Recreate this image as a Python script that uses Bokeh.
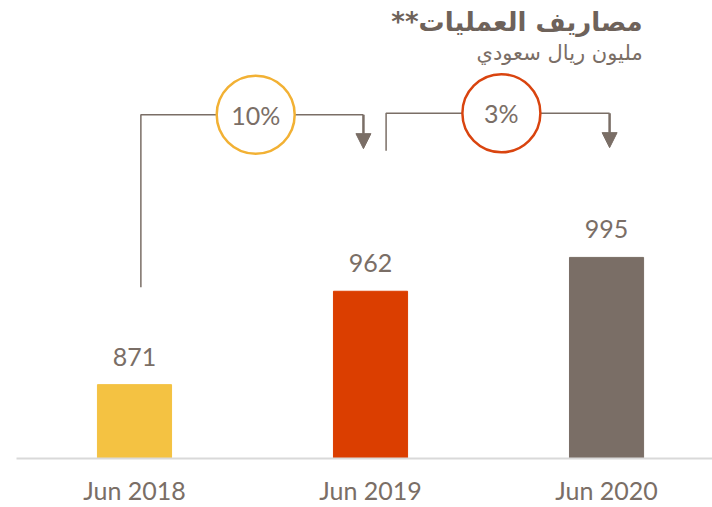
from bokeh.plotting import figure
from bokeh.models import Range1d, FixedTicker, Label, Arrow, NormalHead
from bokeh.core.properties import value
from bokeh.embed import file_html
from bokeh.resources import INLINE

# ---------------- data ----------------
categories = ["Jun 2018", "Jun 2019", "Jun 2020"]
values = [871, 962, 995]
bar_colors = ["#F4C242", "#DB3E00", "#7A6E66"]
growth_labels = ["10%", "3%"]
growth_colors = ["#F2B134", "#D9440F"]
title_text = "مصاريف العمليات**\u200f"
subtitle_text = "مليون ريال سعودي"

# ---------------- styling ----------------
GRAY = "#7A6E66"
FONT = "Lato"
AR_FONT = "DejaVu Sans"
y_base = 799
y_top = 1245.4
link_levels = [1134, 1135.5]
link_starts = [966, 1099]
arrow_tips = [1101, 1102]
start_dx = [0.027, 0.066]
end_dx = [-0.030, 0.013]

xs = list(range(len(categories)))

p = figure(width=712, height=507, output_backend="svg", toolbar_location=None,
           x_range=Range1d(-0.5, 2.449), y_range=Range1d(y_base, y_top),
           y_axis_location=None, min_border_left=16, min_border_right=0,
           min_border_top=0, min_border_bottom=49)
p.outline_line_color = None
p.grid.visible = False
p.background_fill_color = "white"
p.border_fill_color = "white"

# bars
p.vbar(x=xs, top=values, bottom=y_base, width=0.314, color=bar_colors)

# value labels
p.text(x=xs, y=values, text=[str(v) for v in values], text_align="center",
       text_baseline="alphabetic", y_offset=-28, text_font=value(FONT),
       text_font_size="25px", text_color=GRAY)

# growth connectors
circ_x, circ_y = [], []
for i in range(len(growth_labels)):
    xa = xs[i] + start_dx[i]
    xb = xs[i + 1] + end_dx[i]
    lvl = link_levels[i]
    p.line(x=[xa, xa, xb], y=[link_starts[i], lvl, lvl], line_color=GRAY, line_width=1.5)
    p.add_layout(Arrow(x_start=xb, y_start=lvl, x_end=xb, y_end=arrow_tips[i],
                       line_color=GRAY, line_width=2.5,
                       end=NormalHead(size=15, fill_color=GRAY, line_color=GRAY, line_width=1)))
    circ_x.append((xa + xb) / 2 + 0.015)
    circ_y.append(lvl)

p.scatter(x=circ_x, y=circ_y, marker="circle", size=78, fill_color="white",
          line_color=growth_colors, line_width=2.5)
p.text(x=circ_x, y=circ_y, text=growth_labels, text_align="center", text_baseline="middle",
       text_font=value(FONT), text_font_size="25px", text_color=GRAY)

# titles
p.add_layout(Label(x=2.153, y=1224, text=title_text, text_align="right", text_baseline="middle",
                   text_font=AR_FONT, text_font_style="bold", text_font_size="26px",
                   text_color="#6E625A"))
p.add_layout(Label(x=2.153, y=1194, text=subtitle_text, text_align="right", text_baseline="middle",
                   text_font=AR_FONT, text_font_size="21px", text_color=GRAY))

# x axis
p.xaxis.ticker = FixedTicker(ticks=xs)
p.xaxis.major_label_overrides = {i: c for i, c in enumerate(categories)}
p.xaxis.axis_line_color = "#D9D9D9"
p.xaxis.axis_line_width = 2
p.xaxis.major_tick_line_color = None
p.xaxis.minor_tick_line_color = None
p.xaxis.major_label_standoff = 10
p.xaxis.major_label_text_font = FONT
p.xaxis.major_label_text_font_size = "25px"
p.xaxis.major_label_text_color = GRAY

open("out.html", "w").write(file_html(p, INLINE))
